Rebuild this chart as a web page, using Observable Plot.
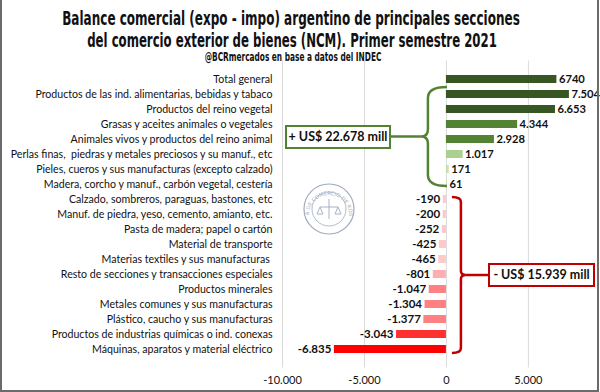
<!DOCTYPE html>
<html>
<head>
<meta charset="utf-8">
<script src="https://cdn.jsdelivr.net/npm/d3@7"></script>
<script src="https://cdn.jsdelivr.net/npm/@observablehq/plot@0.6"></script>
<style>
  html, body { margin: 0; padding: 0; background: #fff; }
  #wrap { position: relative; width: 600px; height: 392px; overflow: hidden; background: #fff; }
  #frame { position: absolute; left: 0; top: -2px; width: 595px; height: 390px; border: 2px solid #6b6b6b; pointer-events: none; }
  .box { position: absolute; background: #fff; font-family: Lato, "Open Sans", sans-serif; font-weight: bold; font-size: 12.5px; color: #111; text-align: center; box-sizing: border-box; line-height: 20px; }
  svg { position: absolute; left: 0; top: 0; }
</style>
</head>
<body>
<div id="wrap"></div>
<script>
const categories = [
  "Total general",
  "Productos de las ind. alimentarias, bebidas y tabaco",
  "Productos del reino vegetal",
  "Grasas y aceites animales o vegetales",
  "Animales vivos y productos del reino animal",
  "Perlas finas,  piedras y metales preciosos y su manuf., etc",
  "Pieles, cueros y sus manufacturas (excepto calzado)",
  "Madera, corcho y manuf., carbón vegetal, cestería",
  "Calzado, sombreros, paraguas, bastones, etc",
  "Manuf. de piedra, yeso, cemento, amianto, etc.",
  "Pasta de madera; papel o cartón",
  "Material de transporte",
  "Materias textiles y sus manufacturas ",
  "Resto de secciones y transacciones especiales",
  "Productos minerales",
  "Metales comunes y sus manufacturas",
  "Plástico, caucho y sus manufacturas",
  "Productos de industrias químicas o ind. conexas",
  "Máquinas, aparatos y material eléctrico"
];
const values = [6740, 7504, 6653, 4344, 2928, 1017, 171, 61, -190, -200, -252, -425, -465, -801, -1047, -1304, -1377, -3043, -6835];
const valueLabels = ["6740", "7.504", "6.653", "4.344", "2.928", "1.017", "171", "61", "-190", "-200", "-252", "-425", "-465", "-801", "-1.047", "-1.304", "-1.377", "-3.043", "-6.835"];
const xTicks = [-10000, -5000, 0, 5000];
const xTickLabels = ["-10.000", "-5.000", "0", "5.000"];
const titleLines = [
  "Balance comercial (expo - impo) argentino de principales secciones",
  "del comercio exterior de bienes (NCM). Primer semestre 2021"
];
const subtitle = "@BCRmercados en base a datos del INDEC";
const positiveNote = "+ US$ 22.678 mill";
const negativeNote = "- US$ 15.939 mill";

function barColor(v) {
  if (v >= 5000) return "#375623";
  if (v >= 2000) return "#548235";
  if (v >= 500) return "#a9d08e";
  if (v > 0) return "#c6e0b4";
  if (v > -600) return "#ffc9c9";
  if (v > -900) return "#ffafaf";
  if (v > -2000) return "#ff8080";
  if (v > -5000) return "#ff3030";
  return "#ff0000";
}

const data = categories.map((c, i) => ({cat: c, value: values[i], label: valueLabels[i], color: barColor(values[i])}));

const wrap = document.getElementById("wrap");

const plot = Plot.plot({
  width: 600,
  height: 392,
  marginTop: 60.5,
  marginBottom: 24.5,
  marginLeft: 282,
  marginRight: 0,
  style: {fontFamily: "Lato, 'Open Sans', sans-serif", background: "transparent"},
  x: {domain: [-10000, 9400], ticks: xTicks, tickFormat: (d) => xTickLabels[xTicks.indexOf(d)], label: null, grid: false},
  y: {domain: categories, padding: 0.45, label: null},
  marks: [
    Plot.ruleX(xTicks, {stroke: "#d9d9d9", strokeWidth: 1}),
    Plot.barX(data, {y: "cat", x: "value", fill: "color"}),
    Plot.text(data.filter(d => d.value >= 0), {y: "cat", x: "value", text: "label", textAnchor: "start", dx: 2, fontWeight: "bold", fontSize: 11.2, fill: "#111"}),
    Plot.text(data.filter(d => d.value < 0), {y: "cat", x: "value", text: "label", textAnchor: "end", dx: -3, fontWeight: "bold", fontSize: 11.5, fill: "#111"}),
    Plot.axisY({tickSize: 0, tickPadding: 10, fontSize: 10.6, label: null, fill: "#111"}),
    Plot.axisX({ticks: xTicks, tickFormat: (d) => xTickLabels[xTicks.indexOf(d)], tickSize: 0, tickPadding: 8, fontSize: 11, label: null, fill: "#111"})
  ]
});
wrap.appendChild(plot);

// Titles as SVG text, horizontally condensed to the reference widths
const tsvg = d3.select(wrap).append("svg").attr("width", 600).attr("height", 70);
[[titleLines[0], 291, 25, 458, 19.5], [titleLines[1], 292, 47, 410, 19.5], [subtitle, 293, 61, 177, 11.5]].forEach(([t, cx, y, len, fs]) => {
  const g = tsvg.append("g");
  const txt = g.append("text").attr("x", 0).attr("y", 0).attr("text-anchor", "middle")
    .attr("font-family", "'DejaVu Sans Condensed', 'Liberation Sans', sans-serif")
    .attr("font-weight", "bold").attr("font-size", fs).attr("fill", "#111")
    .text(t);
  const w = txt.node().getComputedTextLength() || len;
  g.attr("transform", `translate(${cx},${y}) scale(${len / w},1)`);
});

// Annotations from scales
const xs = plot.scale("x"), ys = plot.scale("y");
const bw = ys.bandwidth;
const rowC = (i) => ys.apply(categories[i]) + bw / 2;
const svg = d3.select(plot);
const x0 = xs.apply(0);

// green brace
{
  const yt = rowC(1) - 7, yb = rowC(7) + 2, ym = (yt + yb) / 2;
  const tip = x0 + 1, sp = x0 - 18, pt = x0 - 25;
  const p = `M${tip},${yt} Q${sp},${yt} ${sp},${yt + 11} L${sp},${ym - 7} Q${sp},${ym} ${pt},${ym} Q${sp},${ym} ${sp},${ym + 7} L${sp},${yb - 11} Q${sp},${yb} ${tip},${yb}`;
  svg.append("path").attr("d", p).attr("fill", "none").attr("stroke", "#548235").attr("stroke-width", 2.5);
  svg.append("line").attr("x1", 390).attr("x2", pt).attr("y1", ym).attr("y2", ym).attr("stroke", "#548235").attr("stroke-width", 2.5);
  const b = document.createElement("div");
  b.className = "box";
  b.style.left = "285px"; b.style.top = (ym - 12) + "px"; b.style.width = "106px"; b.style.height = "24px";
  b.style.border = "2px solid #548235";
  b.textContent = positiveNote;
  wrap.appendChild(b);
}
// red bracket
{
  const yt = rowC(8) - 2, yb = rowC(18) + 4, ym = (yt + yb) / 2;
  const tip = x0 + 6, sp = x0 + 15, pt = x0 + 20;
  const p = `M${tip},${yt} Q${sp},${yt} ${sp},${yt + 5} L${sp},${ym - 4} Q${sp},${ym} ${pt},${ym} Q${sp},${ym} ${sp},${ym + 4} L${sp},${yb - 5} Q${sp},${yb} ${tip},${yb}`;
  svg.append("path").attr("d", p).attr("fill", "none").attr("stroke", "#c00000").attr("stroke-width", 2.5);
  svg.append("line").attr("x1", pt).attr("x2", 488).attr("y1", ym).attr("y2", ym).attr("stroke", "#c00000").attr("stroke-width", 2.5);
  const b = document.createElement("div");
  b.className = "box";
  b.style.left = "488px"; b.style.top = (ym - 12) + "px"; b.style.width = "107px"; b.style.height = "24px";
  b.style.border = "2px solid #c00000";
  b.textContent = negativeNote;
  wrap.appendChild(b);
}
// logo (decorative)
{
  const cx = 329, cy = 209, r = 25;
  const g = svg.append("g").attr("opacity", 0.75);
  g.append("circle").attr("cx", cx).attr("cy", cy).attr("r", r).attr("fill", "none").attr("stroke", "#7f8fa9").attr("stroke-width", 1.2);
  g.append("circle").attr("cx", cx).attr("cy", cy).attr("r", r - 8).attr("fill", "none").attr("stroke", "#7f8fa9").attr("stroke-width", 0.8);
  g.append("path").attr("id", "logoArc").attr("fill", "none")
    .attr("d", `M${cx - r + 5},${cy + 6} A${r - 5},${r - 5} 0 1 1 ${cx + r - 5},${cy + 6}`);
  g.append("text").attr("font-size", 5.2).attr("fill", "#7f8fa9").attr("font-family", "DejaVu Sans, sans-serif")
    .append("textPath").attr("href", "#logoArc").attr("startOffset", "50%").attr("text-anchor", "middle")
    .text("BOLSA DE COMERCIO DE ROSARIO");
  g.append("path").attr("d", `M${cx - 9},${cy - 2} L${cx + 9},${cy - 2} M${cx},${cy - 10} L${cx},${cy + 10} M${cx - 9},${cy - 2} L${cx - 12},${cy + 5} L${cx - 6},${cy + 5} Z M${cx + 9},${cy - 2} L${cx + 6},${cy + 5} L${cx + 12},${cy + 5} Z`)
    .attr("fill", "none").attr("stroke", "#7f8fa9").attr("stroke-width", 0.9);
}

const fr = document.createElement("div");
fr.id = "frame";
wrap.appendChild(fr);
</script>
</body>
</html>
